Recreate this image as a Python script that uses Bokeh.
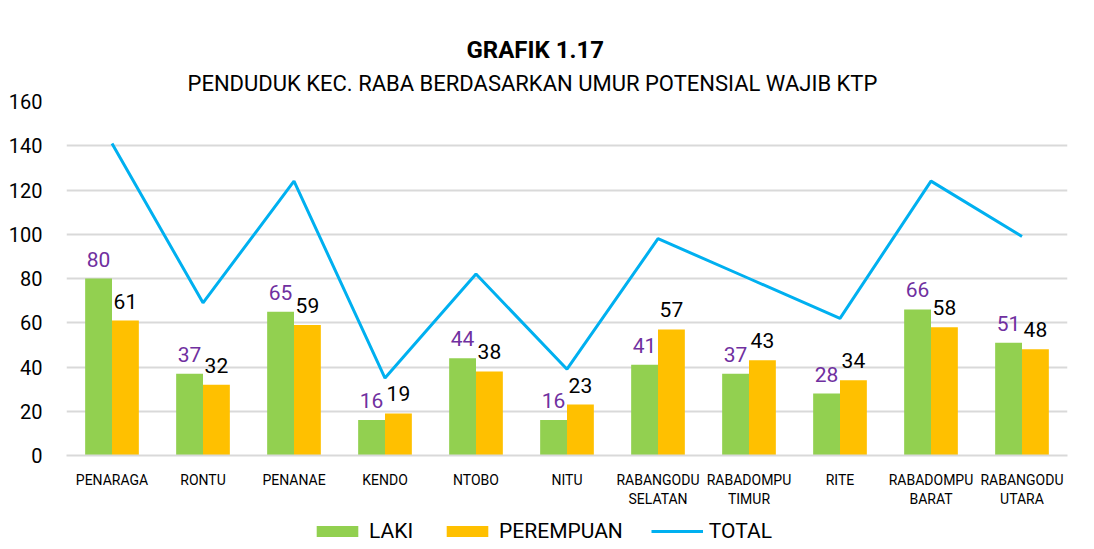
from bokeh.plotting import figure
from bokeh.layouts import column
from bokeh.models import Range1d, FixedTicker, Title, Legend, LegendItem, ColumnDataSource
from bokeh.embed import file_html
from bokeh.resources import INLINE
from bokeh.core.properties import value
from bokeh.transform import dodge

categories = ["PENARAGA", "RONTU", "PENANAE", "KENDO", "NTOBO", "NITU",
              "RABANGODU\nSELATAN", "RABADOMPU\nTIMUR", "RITE",
              "RABADOMPU\nBARAT", "RABANGODU\nUTARA"]
laki = [80, 37, 65, 16, 44, 16, 41, 37, 28, 66, 51]
perempuan = [61, 32, 59, 19, 38, 23, 57, 43, 34, 58, 48]
total = [141, 69, 124, 35, 82, 39, 98, 80, 62, 124, 99]
y_ticks = [0, 20, 40, 60, 80, 100, 120, 140, 160]
series_names = ["LAKI", "PEREMPUAN", "TOTAL"]
title_text = "GRAFIK 1.17"
subtitle_text = "PENDUDUK KEC. RABA BERDASARKAN UMUR POTENSIAL WAJIB KTP"

FONT = "Roboto"
GREEN = "#92D050"
ORANGE = "#FFC000"
BLUE = "#00B0F0"
PURPLE = "#7030A0"

idx = list(range(len(categories)))
src = ColumnDataSource(dict(
    x=idx, laki=laki, perempuan=perempuan, total=total,
    laki_t=[str(v) for v in laki], per_t=[str(v) for v in perempuan],
))

p = figure(width=1086, height=511, output_backend="svg", toolbar_location=None,
           x_range=Range1d(-0.5, len(categories) - 0.5), y_range=Range1d(0, 160),
           min_border_left=66, min_border_right=19, min_border_top=101, min_border_bottom=56)
p.outline_line_color = None
p.background_fill_color = "white"
p.border_fill_color = "white"

bw = 0.295
p.vbar(x=dodge("x", -bw / 2, range=p.x_range), top="laki", width=bw, bottom=0,
       source=src, fill_color=GREEN, line_color=None)
p.vbar(x=dodge("x", bw / 2, range=p.x_range), top="perempuan", width=bw, bottom=0,
       source=src, fill_color=ORANGE, line_color=None)
p.line(x="x", y="total", source=src, line_color=BLUE, line_width=3)

p.text(x=dodge("x", -bw / 2, range=p.x_range), y="laki", text="laki_t", source=src,
       text_font=value(FONT), text_font_size="21px", text_color=PURPLE,
       text_align="center", text_baseline="bottom", y_offset=-12)
p.text(x=dodge("x", bw / 2, range=p.x_range), y="perempuan", text="per_t", source=src,
       text_font=value(FONT), text_font_size="21px", text_color="black",
       text_align="center", text_baseline="bottom", y_offset=-12)

# axes
p.yaxis.ticker = FixedTicker(ticks=y_ticks)
p.yaxis.axis_line_color = None
p.yaxis.major_tick_line_color = None
p.yaxis.minor_tick_line_color = None
p.yaxis.major_label_text_font = FONT
p.yaxis.major_label_text_font_size = "20px"
p.yaxis.major_label_text_color = "black"
p.yaxis.major_label_standoff = 18

p.xaxis.ticker = FixedTicker(ticks=idx)
p.xaxis.major_label_overrides = {i: c for i, c in zip(idx, categories)}
p.xaxis.axis_line_color = "#D9D9D9"
p.xaxis.axis_line_width = 2
p.xaxis.major_tick_line_color = None
p.xaxis.minor_tick_line_color = None
p.xaxis.major_label_text_font = FONT
p.xaxis.major_label_text_font_size = "14px"
p.xaxis.major_label_text_color = "black"
p.xaxis.major_label_standoff = 10

p.xgrid.grid_line_color = None
p.ygrid.ticker = FixedTicker(ticks=y_ticks)
p.ygrid.grid_line_color = "#D9D9D9"
p.ygrid.grid_line_width = 2

# titles
p.add_layout(Title(text=subtitle_text, text_font=FONT, text_font_size="22px",
                   text_font_style="normal", align="left", offset=121,
                   text_color="black", standoff=11), "above")
p.add_layout(Title(text=title_text, text_font=FONT, text_font_size="24px",
                   text_font_style="bold", align="left", offset=400,
                   text_color="black", standoff=0), "above")

# legend strip below the chart (its glyphs sit outside the strip's visible range)
lg = figure(width=1086, height=32, output_backend="svg", toolbar_location=None,
            x_range=Range1d(1000, 1001), y_range=Range1d(1000, 1001),
            x_axis_location=None, y_axis_location=None,
            min_border_left=0, min_border_right=0, min_border_top=0, min_border_bottom=0)
lg.outline_line_color = None
lg.grid.grid_line_color = None
lg.border_fill_color = "white"
l1 = lg.vbar(x="x", top="laki", width=bw, bottom=0, source=src, fill_color=GREEN, line_color=None)
l2 = lg.vbar(x="x", top="perempuan", width=bw, bottom=0, source=src, fill_color=ORANGE, line_color=None)
l3 = lg.line(x="x", y="total", source=src, line_color=BLUE, line_width=3)

legend = Legend(items=[LegendItem(label=series_names[0], renderers=[l1]),
                       LegendItem(label=series_names[1], renderers=[l2]),
                       LegendItem(label=series_names[2], renderers=[l3])],
                orientation="horizontal", location=(245, 0),
                glyph_width=52, glyph_height=14, label_standoff=6, spacing=28,
                padding=2, margin=0, border_line_color=None, background_fill_alpha=0,
                label_text_font=FONT, label_text_font_size="21px", label_text_color="black")
lg.add_layout(legend, "center")

layout = column(p, lg, spacing=0)
open("out.html", "w").write(file_html(layout, INLINE))
